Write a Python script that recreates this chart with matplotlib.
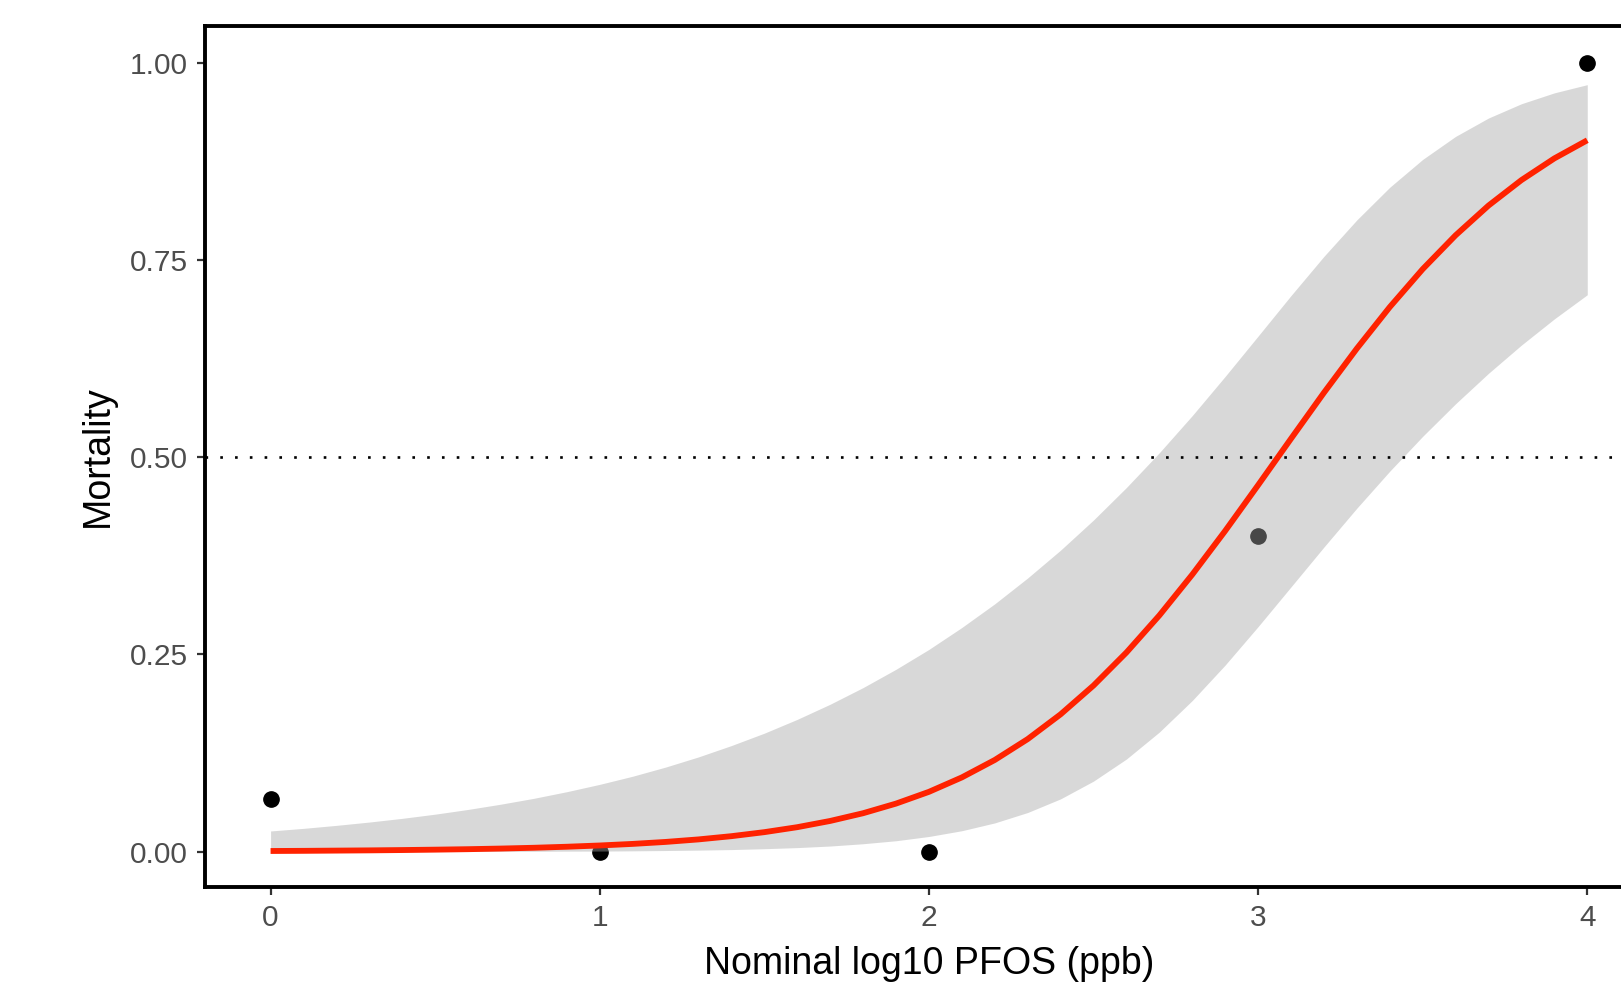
import numpy as np
import matplotlib
matplotlib.use("Agg")
import matplotlib.pyplot as plt

plt.rcParams['font.family'] = ['Liberation Sans', 'DejaVu Sans']

# observed mortality per dose
dose = [0, 1, 2, 3, 4]
mortality = [0.067, 0.0, 0.0, 0.4, 1.0]

# fitted curve and confidence band (step 0.1)
fit_x = [0.0, 0.1, 0.2, 0.3, 0.4, 0.5, 0.6, 0.7, 0.8, 0.9,
         1.0, 1.1, 1.2, 1.3, 1.4, 1.5, 1.6, 1.7, 1.8, 1.9,
         2.0, 2.1, 2.2, 2.3, 2.4, 2.5, 2.6, 2.7, 2.8, 2.9,
         3.0, 3.1, 3.2, 3.3, 3.4, 3.5, 3.6, 3.7, 3.8, 3.9, 4.0]
fit_y = [0.0007, 0.0009, 0.0012, 0.0015, 0.0019, 0.0024, 0.0030, 0.0038, 0.0048, 0.0061,
         0.0077, 0.0097, 0.0122, 0.0154, 0.0195, 0.0246, 0.0309, 0.0388, 0.0486, 0.0608,
         0.0757, 0.0940, 0.1161, 0.1426, 0.1740, 0.2105, 0.2524, 0.2994, 0.3512, 0.4066,
         0.4646, 0.5235, 0.5818, 0.6378, 0.6904, 0.7385, 0.7814, 0.8191, 0.8514, 0.8789, 0.9019]
ci_upper = [0.0261, 0.0294, 0.0332, 0.0374, 0.0421, 0.0474, 0.0534, 0.0601, 0.0675, 0.0759,
            0.0852, 0.0955, 0.1071, 0.1200, 0.1344, 0.1501, 0.1676, 0.1868, 0.2079, 0.2311,
            0.2563, 0.2841, 0.3141, 0.3469, 0.3822, 0.4204, 0.4616, 0.5057, 0.5528, 0.6025,
            0.6536, 0.7050, 0.7547, 0.8009, 0.8423, 0.8776, 0.9068, 0.9301, 0.9482, 0.9620, 0.9724]
ci_lower = [0.0000, 0.0000, 0.0000, 0.0001, 0.0001, 0.0001, 0.0002, 0.0002, 0.0003, 0.0005,
            0.0006, 0.0009, 0.0013, 0.0018, 0.0025, 0.0036, 0.0050, 0.0070, 0.0099, 0.0137,
            0.0191, 0.0264, 0.0363, 0.0495, 0.0668, 0.0893, 0.1173, 0.1515, 0.1915, 0.2365,
            0.2852, 0.3356, 0.3861, 0.4354, 0.4823, 0.5265, 0.5678, 0.6064, 0.6422, 0.6754, 0.7060]

xticks = [0, 1, 2, 3, 4]
yticks = [0.0, 0.25, 0.5, 0.75, 1.0]
ytick_labels = ["0.00", "0.25", "0.50", "0.75", "1.00"]

fig = plt.figure(figsize=(16.21, 9.82), dpi=100)
ax = fig.add_axes([0.1263, 0.0967, 0.8935, 0.877])

ax.plot(dose, mortality, 'o', color='black', markersize=11, zorder=2)
ax.fill_between(fit_x, ci_lower, ci_upper, color='#A6A6A6', alpha=0.43,
                linewidth=0, zorder=3)
ax.plot(fit_x, fit_y, color='#FF2200', linewidth=4.2, zorder=4,
        solid_capstyle='butt')
ax.axhline(0.5, color='black', linewidth=1.9, linestyle=(0, (1, 4.6)),
           zorder=5)

ax.set_xlim(-0.2, 4.2)
ax.set_ylim(-0.045, 1.047)
ax.set_xticks(xticks)
ax.set_xticklabels([str(t) for t in xticks])
ax.set_yticks(yticks)
ax.set_yticklabels(ytick_labels)

for side in ['left', 'top', 'bottom', 'right']:
    ax.spines[side].set_linewidth(2.8)
    ax.spines[side].set_color('black')

ax.tick_params(axis='both', length=6, width=1.6, color='#333333',
               labelcolor='#4D4D4D', labelsize=21.5, pad=6)

ax.set_xlabel("Nominal log10 PFOS (ppb)", fontsize=27, color='black',
              labelpad=10)
ax.set_ylabel("Mortality", fontsize=27, color='black', labelpad=10)

fig.savefig("out.png", dpi=100)
